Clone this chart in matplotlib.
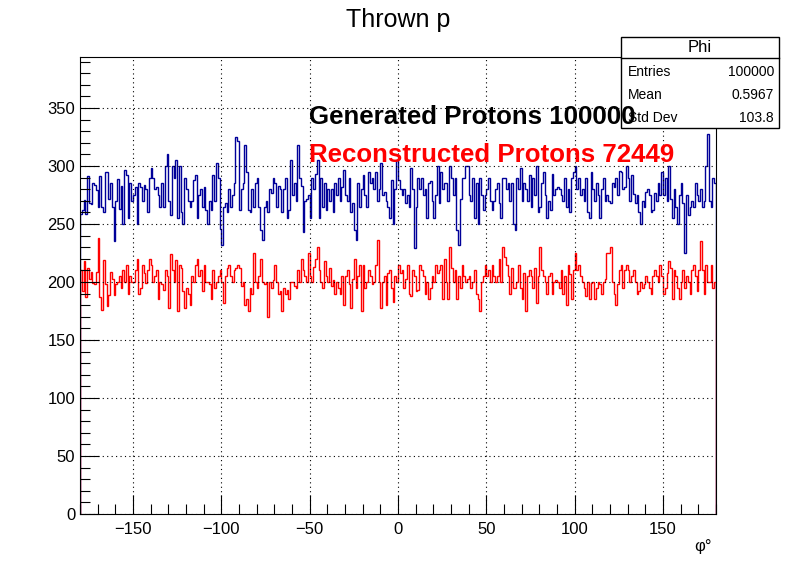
import numpy as np
import matplotlib
matplotlib.use("Agg")
import matplotlib.pyplot as plt
from matplotlib.patches import Rectangle
from matplotlib.ticker import MultipleLocator

plt.rcParams['font.family'] = ['Liberation Sans', 'DejaVu Sans']

title = "Thrown p"
xlabel = "\u03c6\u00b0"
gen_label = "Generated Protons 100000"
rec_label = "Reconstructed Protons 72449"
stats_name = "Phi"
stats_rows = [("Entries", "100000"), ("Mean", "0.5967"), ("Std Dev", "103.8")]

x_min, x_max, n_bins = -180, 180, 360

generated = [
    259, 262, 271, 259, 291, 268, 267, 285, 284, 279, 265, 291, 265, 260, 295, 295, 272, 285, 265, 235, 270, 289, 263, 283, 250, 297, 292, 255, 285, 270,
    275, 282, 250, 285, 282, 270, 284, 280, 260, 290, 298, 290, 280, 282, 275, 265, 285, 265, 300, 310, 270, 258, 300, 290, 305, 255, 300, 260, 250, 290,
    280, 270, 265, 270, 288, 292, 255, 275, 280, 265, 282, 262, 250, 270, 262, 292, 270, 303, 290, 246, 232, 265, 268, 260, 280, 265, 275, 285, 325, 322,
    262, 280, 285, 318, 295, 262, 260, 280, 265, 285, 290, 265, 245, 236, 265, 270, 260, 280, 277, 290, 285, 265, 283, 280, 260, 280, 290, 255, 262, 305,
    275, 285, 270, 318, 290, 283, 243, 270, 272, 275, 255, 290, 280, 293, 305, 255, 290, 265, 285, 262, 280, 270, 280, 260, 285, 275, 290, 270, 282, 297,
    275, 270, 290, 260, 268, 245, 236, 285, 265, 280, 292, 275, 265, 295, 285, 290, 280, 295, 270, 280, 303, 275, 278, 270, 265, 255, 288, 250, 280, 305,
    288, 280, 275, 280, 268, 275, 265, 298, 280, 229, 265, 290, 280, 290, 275, 280, 255, 285, 287, 270, 255, 275, 300, 268, 295, 280, 285, 285, 270, 300,
    290, 275, 290, 245, 232, 272, 290, 290, 300, 300, 275, 270, 290, 255, 285, 250, 290, 275, 262, 275, 280, 290, 270, 262, 270, 280, 285, 268, 255, 290,
    290, 280, 285, 270, 285, 250, 245, 290, 280, 298, 270, 285, 280, 270, 292, 265, 290, 275, 300, 260, 265, 285, 295, 275, 255, 270, 262, 293, 275, 280,
    282, 280, 275, 270, 290, 265, 280, 260, 290, 295, 300, 280, 290, 275, 280, 270, 290, 260, 255, 295, 280, 270, 285, 275, 255, 280, 290, 270, 275, 270,
    268, 285, 282, 290, 275, 296, 295, 280, 282, 300, 290, 270, 292, 276, 268, 275, 260, 250, 270, 265, 278, 280, 275, 260, 262, 277, 270, 285, 275, 295,
    275, 290, 270, 300, 272, 255, 280, 265, 250, 275, 285, 268, 225, 275, 258, 265, 270, 265, 285, 275, 270, 280, 265, 270, 300, 328, 270, 265, 290, 285,
]

reconstructed = [
    210, 192, 218, 187, 212, 203, 209, 199, 198, 209, 238, 187, 176, 219, 198, 179, 189, 209, 203, 189, 198, 200, 205, 195, 210, 200, 215, 190, 205, 200,
    200, 210, 220, 190, 195, 215, 208, 199, 210, 220, 215, 200, 205, 210, 185, 200, 198, 193, 210, 205, 178, 224, 210, 200, 219, 175, 215, 212, 192, 178,
    195, 190, 180, 205, 200, 215, 220, 205, 210, 192, 215, 200, 200, 198, 185, 210, 195, 200, 205, 210, 200, 182, 205, 212, 215, 205, 200, 210, 212, 215,
    212, 197, 200, 180, 185, 175, 195, 190, 225, 200, 195, 205, 220, 200, 198, 200, 170, 200, 195, 202, 215, 200, 190, 192, 175, 195, 190, 193, 185, 200,
    200, 197, 195, 210, 200, 220, 210, 205, 200, 225, 205, 200, 213, 220, 230, 210, 200, 195, 218, 205, 200, 212, 197, 202, 190, 200, 195, 190, 205, 180,
    205, 210, 198, 178, 203, 220, 195, 205, 215, 175, 215, 195, 200, 210, 205, 198, 200, 215, 236, 200, 178, 200, 205, 180, 208, 210, 195, 183, 205, 200,
    215, 208, 210, 195, 203, 215, 190, 188, 210, 205, 192, 193, 215, 210, 205, 190, 200, 185, 195, 205, 200, 215, 208, 210, 215, 185, 220, 200, 185, 230,
    212, 200, 210, 185, 205, 195, 215, 205, 200, 203, 205, 195, 200, 210, 190, 185, 175, 200, 205, 215, 205, 210, 200, 215, 205, 200, 205, 220, 200, 230,
    222, 215, 205, 190, 212, 195, 195, 200, 215, 195, 185, 208, 175, 205, 210, 205, 195, 212, 182, 205, 230, 210, 205, 200, 190, 205, 208, 190, 200, 202,
    200, 195, 210, 190, 205, 180, 215, 207, 185, 210, 225, 210, 215, 205, 200, 195, 188, 200, 185, 199, 200, 185, 195, 200, 198, 190, 200, 203, 225, 225,
    230, 200, 190, 180, 198, 210, 215, 195, 210, 215, 210, 200, 205, 210, 200, 190, 192, 200, 195, 198, 205, 200, 195, 190, 205, 210, 205, 200, 215, 205,
    190, 195, 208, 218, 212, 185, 210, 205, 195, 185, 200, 210, 195, 205, 200, 190, 210, 215, 205, 192, 210, 235, 210, 190, 215, 200, 200, 215, 195, 200,
]

edges = np.linspace(x_min, x_max, n_bins + 1)

fig = plt.figure(figsize=(7.96, 5.72), dpi=100)
ax = fig.add_axes([80/796, 1-514/572, (716-80)/796, (514-57)/572])

ax.stairs(generated, edges, color='#000099', linewidth=1.0)
ax.stairs(reconstructed, edges, color='#ff0000', linewidth=1.0)

ax.set_xlim(x_min, x_max)
ax.set_ylim(0, 394)
ax.xaxis.set_major_locator(MultipleLocator(50))
ax.xaxis.set_minor_locator(MultipleLocator(10))
ax.yaxis.set_major_locator(MultipleLocator(50))
ax.yaxis.set_minor_locator(MultipleLocator(10))
ax.tick_params(which='both', direction='in', top=False, right=False, labelsize=12)
ax.tick_params(which='major', length=14, width=0.8)
ax.tick_params(which='minor', length=7, width=0.8)
ax.tick_params(axis='x', pad=6)
ax.grid(True, which='major', linestyle=(0, (1, 3)), color='black', linewidth=0.8)
for s in ax.spines.values():
    s.set_linewidth(0.8)

fig.text(0.5, 1-20/572, title, ha='center', va='center', fontsize=18)
fig.text(712/796, 1-546/572, xlabel, ha='right', va='center', fontsize=12)

# stats box
bx0, bx1 = 621/796, 779/796
by0, by1 = 1-128/572, 1-37/572
fig.patches.append(Rectangle((bx0, by0), bx1-bx0, by1-by0, transform=fig.transFigure,
                             facecolor='white', edgecolor='black', linewidth=1.0, zorder=5))
hy = 1-58/572
fig.lines.append(plt.Line2D([bx0, bx1], [hy, hy], transform=fig.transFigure, color='black', linewidth=1.0, zorder=6))
fig.text((bx0+bx1)/2, 1-48/572, stats_name, ha='center', va='center', fontsize=12, zorder=7)
row_y = [72, 95, 118]
for (lab, val), yy in zip(stats_rows, row_y):
    fig.text(628/796, 1-yy/572, lab, ha='left', va='center', fontsize=10, zorder=7)
    fig.text(774/796, 1-yy/572, val, ha='right', va='center', fontsize=10, zorder=7)

# annotation texts drawn on top of the stats box
fig.text(309/796, 1-117/572, gen_label, fontsize=18.6, fontweight='bold', color='black',
         va='center', ha='left', zorder=10)
fig.text(309/796, 1-155/572, rec_label, fontsize=18.6, fontweight='bold', color='#ff0000',
         va='center', ha='left', zorder=10)

fig.savefig('out.png', dpi=100)
